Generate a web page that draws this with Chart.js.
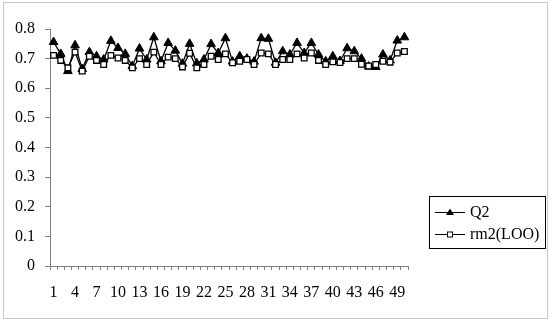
<!DOCTYPE html>
<html>
<head>
<meta charset="utf-8">
<script src="https://cdn.jsdelivr.net/npm/chart.js@4"></script>
<style>
  html, body { margin: 0; padding: 0; background: #fff; }
  #wrap { position: relative; width: 550px; height: 323px; }
</style>
</head>
<body>
<div id="wrap"><canvas id="myChart" width="550" height="323"></canvas></div>
<script>
// category labels 1..50
var categories = [];
for (var i = 1; i <= 50; i++) categories.push(String(i));

var q2Values = [
  0.756, 0.716, 0.658, 0.745, 0.665, 0.722, 0.708, 0.697, 0.760, 0.736,
  0.716, 0.675, 0.734, 0.697, 0.772, 0.691, 0.753, 0.727, 0.683, 0.750,
  0.684, 0.697, 0.749, 0.719, 0.769, 0.690, 0.708, 0.700, 0.690, 0.769,
  0.767, 0.686, 0.725, 0.714, 0.753, 0.719, 0.753, 0.714, 0.691, 0.708,
  0.692, 0.735, 0.725, 0.700, 0.673, 0.672, 0.714, 0.694, 0.761, 0.772
];

var rm2Values = [
  0.711, 0.694, 0.669, 0.722, 0.658, 0.708, 0.694, 0.680, 0.711, 0.702,
  0.694, 0.669, 0.700, 0.680, 0.722, 0.680, 0.705, 0.700, 0.672, 0.718,
  0.669, 0.680, 0.708, 0.697, 0.716, 0.686, 0.691, 0.697, 0.680, 0.719,
  0.716, 0.680, 0.697, 0.697, 0.716, 0.702, 0.719, 0.694, 0.680, 0.689,
  0.687, 0.700, 0.700, 0.681, 0.675, 0.680, 0.691, 0.688, 0.719, 0.724
];

var yTicks = [0, 0.1, 0.2, 0.3, 0.4, 0.5, 0.6, 0.7, 0.8];

var fontFamily = "'Liberation Serif', 'Times New Roman', serif";

// outer frame + legend box like the original
var framePlugin = {
  id: "frame",
  afterDraw: function (chart) {
    var ctx = chart.ctx;
    ctx.save();
    ctx.strokeStyle = "#c8c8c8";
    ctx.lineWidth = 1;
    ctx.strokeRect(3.5, 2.5, 544, 316);

    // legend
    ctx.strokeStyle = "#000";
    ctx.strokeRect(429.5, 196.5, 116, 52);
    ctx.font = "16px " + fontFamily;
    ctx.textBaseline = "middle";
    var rows = [
      { text: "Q2", y: 212, style: "triangle", fill: "#000" },
      { text: "rm2(LOO)", y: 234, style: "rect", fill: "#fff" }
    ];
    rows.forEach(function (r) {
      ctx.beginPath();
      ctx.moveTo(435, r.y + 0.5);
      ctx.lineTo(465, r.y + 0.5);
      ctx.lineWidth = 1;
      ctx.strokeStyle = "#000";
      ctx.stroke();
      ctx.fillStyle = r.fill;
      ctx.beginPath();
      if (r.style === "rect") {
        ctx.fillRect(447, r.y - 2.5, 6, 6);
        ctx.strokeRect(447.5, r.y - 2, 5, 5);
      } else {
        ctx.moveTo(450, r.y - 3.5);
        ctx.lineTo(454, r.y + 3);
        ctx.lineTo(446, r.y + 3);
        ctx.closePath();
        ctx.fill();
      }
      ctx.fillStyle = "#000";
      ctx.fillText(r.text, 470, r.y + 1);
    });
    ctx.restore();
  }
};

window.onload = function () {
  var ctx = document.getElementById("myChart").getContext("2d");

  var myChart = new Chart(ctx, {
    type: "line",
    data: {
      labels: categories,
      datasets: [
        {
          label: "Q2",
          data: q2Values,
          borderColor: "#000",
          backgroundColor: "#000",
          borderWidth: 1.3,
          pointStyle: "triangle",
          pointRadius: 5,
          pointBorderWidth: 1,
          pointBackgroundColor: "#000",
          pointBorderColor: "#000",
          tension: 0,
          order: 1
        },
        {
          label: "rm2(LOO)",
          data: rm2Values,
          borderColor: "#000",
          backgroundColor: "#fff",
          borderWidth: 1.3,
          pointStyle: "rect",
          pointRadius: 4,
          pointBorderWidth: 1.3,
          pointBackgroundColor: "#fff",
          pointBorderColor: "#000",
          tension: 0,
          order: 0
        }
      ]
    },
    options: {
      responsive: false,
      animation: false,
      layout: { padding: { top: 29, right: 142, bottom: 0, left: 0 } },
      plugins: {
        legend: { display: false },
        tooltip: { enabled: false }
      },
      scales: {
        x: {
          type: "category",
          offset: true,
          grid: {
            offset: true,
            drawOnChartArea: false,
            drawTicks: true,
            tickLength: 4,
            color: "#808080"
          },
          border: { color: "#808080", width: 1 },
          ticks: {
            autoSkip: false,
            maxRotation: 0,
            padding: 13,
            color: "#000",
            font: { family: fontFamily, size: 16 },
            callback: function (val, idx) {
              return idx % 3 === 0 ? categories[idx] : "";
            }
          },
          afterFit: function (scale) { scale.height = 57; }
        },
        y: {
          min: 0,
          max: 0.8,
          afterBuildTicks: function (scale) {
            scale.ticks = yTicks.map(function (v) { return { value: v }; });
          },
          grid: {
            drawOnChartArea: false,
            drawTicks: true,
            tickLength: 5,
            color: "#808080"
          },
          border: { color: "#808080", width: 1 },
          ticks: {
            padding: 10,
            color: "#000",
            font: { family: fontFamily, size: 16 },
            callback: function (v) { return v === 0 ? "0" : v.toFixed(1); }
          },
          afterFit: function (scale) { scale.width = 50; }
        }
      }
    },
    plugins: [framePlugin]
  });
};
</script>
</body>
</html>
